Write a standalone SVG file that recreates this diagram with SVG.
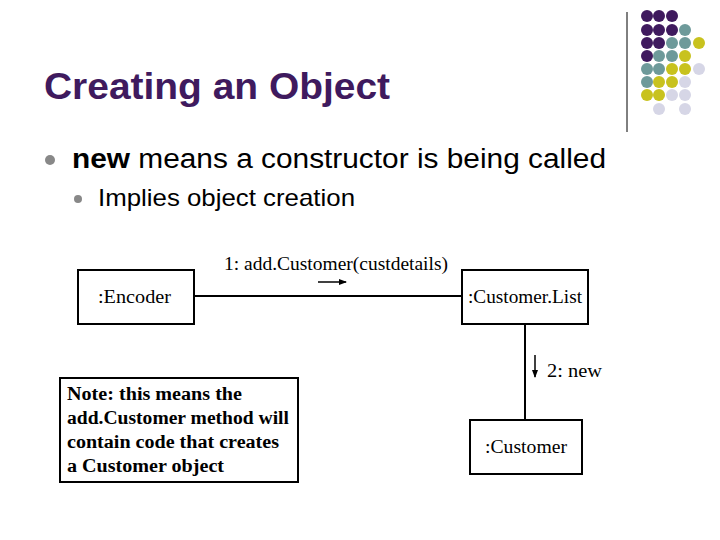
<svg xmlns="http://www.w3.org/2000/svg" width="720" height="540" viewBox="0 0 720 540">
<style>
.box{fill:#fff;stroke:#000;stroke-width:2}
.ln{stroke:#000;stroke-width:2;fill:none}
.t{font-family:"Liberation Serif",serif;font-size:18.5px}
.s{font-family:"Liberation Sans",sans-serif}
.P{fill:#3f1a5e}.T{fill:#6e9a9a}.Y{fill:#c8c21e}.L{fill:#d6d6e6}
</style>
<defs><marker id="a" markerWidth="8" markerHeight="8" refX="7" refY="4" orient="auto" markerUnits="userSpaceOnUse"><path d="M0,1 L8,4 L0,7Z"/></marker></defs>
<rect width="720" height="540" fill="#fff"/>
<g id="decor">
<line x1="627" y1="12" x2="627" y2="132" stroke="#000" stroke-width="1"/>
<circle class="P" cx="647" cy="16" r="6"/><circle class="P" cx="659" cy="16" r="6"/><circle class="P" cx="672" cy="16" r="6"/>
<circle class="P" cx="647" cy="30" r="6"/><circle class="P" cx="659" cy="30" r="6"/><circle class="P" cx="672" cy="30" r="6"/><circle class="T" cx="685" cy="30" r="6"/>
<circle class="P" cx="647" cy="43" r="6"/><circle class="P" cx="659" cy="43" r="6"/><circle class="T" cx="672" cy="43" r="6"/><circle class="T" cx="685" cy="43" r="6"/><circle class="Y" cx="699" cy="43" r="6"/>
<circle class="P" cx="647" cy="56" r="6"/><circle class="T" cx="659" cy="56" r="6"/><circle class="T" cx="672" cy="56" r="6"/><circle class="Y" cx="685" cy="56" r="6"/>
<circle class="T" cx="647" cy="69" r="6"/><circle class="T" cx="659" cy="69" r="6"/><circle class="Y" cx="672" cy="69" r="6"/><circle class="Y" cx="685" cy="69" r="6"/><circle class="L" cx="699" cy="69" r="6"/>
<circle class="T" cx="647" cy="82" r="6"/><circle class="Y" cx="659" cy="82" r="6"/><circle class="Y" cx="672" cy="82" r="6"/><circle class="L" cx="685" cy="82" r="6"/>
<circle class="Y" cx="647" cy="95" r="6"/><circle class="Y" cx="659" cy="95" r="6"/><circle class="L" cx="672" cy="95" r="6"/><circle class="L" cx="685" cy="95" r="6"/>
<circle class="L" cx="659" cy="109" r="6"/><circle class="L" cx="685" cy="109" r="6"/>
</g>
<g id="title">
<text x="44" y="99" class="s" font-size="36" font-weight="bold" fill="#3f1a5e" textLength="346" lengthAdjust="spacingAndGlyphs">Creating an Object</text>
<circle cx="50" cy="160" r="5" fill="#888"/>
<text x="72" y="168" class="s" font-size="27" textLength="534" lengthAdjust="spacingAndGlyphs"><tspan font-weight="bold">new</tspan> means a constructor is being called</text>
<circle cx="78" cy="199" r="4" fill="#888"/>
<text x="98" y="206" class="s" font-size="24" textLength="257" lengthAdjust="spacingAndGlyphs">Implies object creation</text>
</g>
<g id="connectors">
<line class="ln" x1="194" y1="296" x2="462" y2="296"/>
<line class="ln" x1="525" y1="324" x2="525" y2="420"/>
<line stroke="#000" stroke-width="1.5" x1="318" y1="282" x2="346" y2="282" marker-end="url(#a)"/>
<line stroke="#000" stroke-width="1.5" x1="535" y1="355" x2="535" y2="377" marker-end="url(#a)"/>
<text x="224" y="270" class="t" textLength="224" lengthAdjust="spacingAndGlyphs">1: add.Customer(custdetails)</text>
<text x="547" y="377" class="t" textLength="55" lengthAdjust="spacingAndGlyphs">2: new</text>
</g>
<g id="encoder"><rect class="box" x="78" y="270" width="116" height="54"/><text x="98" y="303" class="t" textLength="73" lengthAdjust="spacingAndGlyphs">:Encoder</text></g>
<g id="customerlist"><rect class="box" x="462" y="270" width="126" height="54"/><text x="468" y="303" class="t" textLength="114" lengthAdjust="spacingAndGlyphs">:Customer.List</text></g>
<g id="customer"><rect class="box" x="470" y="420" width="112" height="54"/><text x="485" y="453" class="t" textLength="82" lengthAdjust="spacingAndGlyphs">:Customer</text></g>
<g id="note"><rect class="box" x="60" y="378" width="238" height="104" stroke-width="1.5"/>
<text class="t" font-weight="bold" font-size="17"><tspan x="67" y="400" textLength="175" lengthAdjust="spacingAndGlyphs">Note: this means the</tspan><tspan x="67" y="424" textLength="222" lengthAdjust="spacingAndGlyphs">add.Customer method will</tspan><tspan x="67" y="448" textLength="212" lengthAdjust="spacingAndGlyphs">contain code that creates</tspan><tspan x="67" y="472" textLength="157" lengthAdjust="spacingAndGlyphs">a Customer object</tspan></text></g>
</svg>
